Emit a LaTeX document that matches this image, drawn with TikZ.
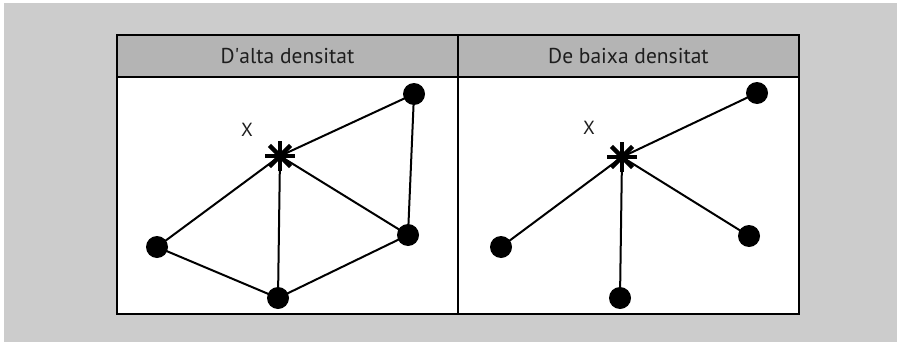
\documentclass[tikz,border=0pt]{standalone}
\usepackage{fontspec}
\setmainfont{PT Sans}
\definecolor{bggray}{RGB}{204,204,204}
\definecolor{headgray}{RGB}{180,180,180}
\definecolor{txt}{RGB}{30,30,30}
\begin{document}
\begin{tikzpicture}[x=1pt,y=-1pt,
  dot/.style={circle,fill=black,inner sep=0pt,minimum size=22pt},
  hub/.style={inner sep=0pt,minimum size=30pt},
  edge/.style={line width=2pt},
  frame/.style={draw=black,line width=2.2pt},
  head/.style={text=txt,font=\fontsize{21.5}{24}\selectfont},
  lbl/.style={text=txt,font=\fontsize{19}{22}\selectfont}]
\useasboundingbox (0,0) rectangle (901,345);
\fill[white] (0,0) rectangle (901,345);
\fill[bggray] (4,3) rectangle (897,342);
% panels
\fill[white] (117,35) rectangle (799,314);
\fill[headgray] (117,35) rectangle (799,77);
\draw[frame] (117,35) rectangle (799,314);
\draw[frame] (117,77) -- (799,77);
\draw[frame] (458,35) -- (458,314);
\node[head] (h1) at (287.5,56) {D\textquotesingle alta densitat};
\node[head] (h2) at (628.5,56) {De baixa densitat};
\newcommand{\myhub}[2]{%
  \node[hub] (#1) at #2 {};
  \foreach \a in {0,45,90,135}{
    \draw[line width=4.4pt] (#1.center) ++(\a:15) -- ++(\a+180:30);
  }}
% left panel
\myhub{xa}{(280,156)}
\node[lbl] (la) at (247,130) {X};
\node[dot] (a1) at (414,94) {};
\node[dot] (a2) at (157,247) {};
\node[dot] (a3) at (408,235) {};
\node[dot] (a4) at (278,298) {};
\draw[edge] (xa.center) -- (a1.center);
\draw[edge] (xa.center) -- (a2.center);
\draw[edge] (xa.center) -- (a3.center);
\draw[edge] (xa.center) -- (a4.center);
\draw[edge] (a1.center) -- (a3.center);
\draw[edge] (a2.center) -- (a4.center);
\draw[edge] (a4.center) -- (a3.center);
% right panel
\myhub{xb}{(622,157)}
\node[lbl] (lb) at (589,128) {X};
\node[dot] (b1) at (757,93) {};
\node[dot] (b2) at (501,247) {};
\node[dot] (b3) at (749,236) {};
\node[dot] (b4) at (620,298) {};
\draw[edge] (xb.center) -- (b1.center);
\draw[edge] (xb.center) -- (b2.center);
\draw[edge] (xb.center) -- (b3.center);
\draw[edge] (xb.center) -- (b4.center);
\end{tikzpicture}
\end{document}
